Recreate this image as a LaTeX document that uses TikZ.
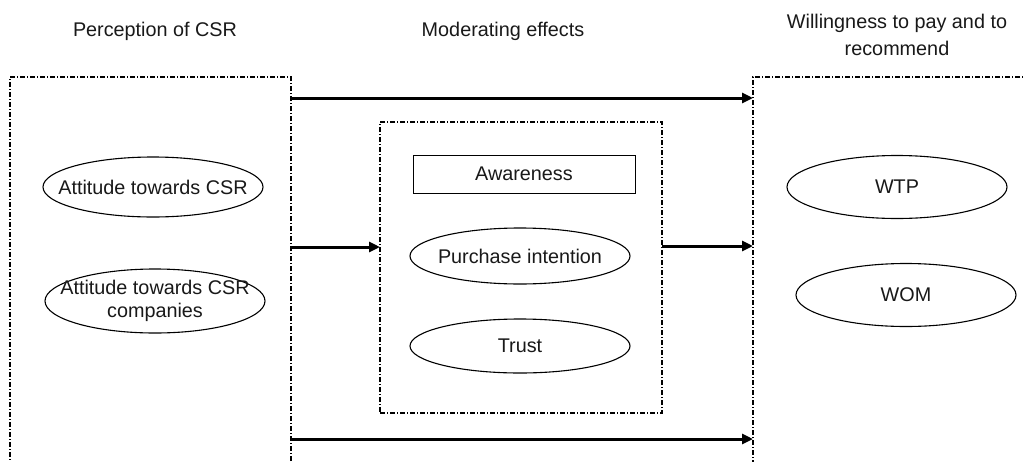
\documentclass[tikz,border=0pt]{standalone}
\usepackage{fontspec}
\setmainfont{Liberation Sans}
\usetikzlibrary{arrows.meta,shapes.geometric}
\begin{document}
\begin{tikzpicture}[x=1pt,y=-1pt,
  every node/.style={text=black!90, font=\fontsize{19.8}{23}\selectfont},
  groupbox/.style={draw, line width=1.2pt, dash pattern=on 5pt off 2pt on 1pt off 2pt,
    rectangle, inner sep=0pt, outer sep=0pt},
  % negative inner sep lets the fixed minimum size set the ellipse outline
  oval/.style={draw, line width=1.1pt, ellipse, inner xsep=-40pt, inner ysep=-15pt,
    align=center, minimum width=220pt, minimum height=60pt},
  plainbox/.style={draw, line width=1pt, rectangle, inner sep=0pt,
    minimum width=222pt, minimum height=38pt},
  heading/.style={align=center, font=\fontsize{19.8}{27}\selectfont},
  flow/.style={line width=3pt, -{Triangle[length=11pt,width=10pt]}}]
\clip (0,0) rectangle (1025,461);
\fill[white] (0,0) rectangle (1025,461);

% column headings
\node[heading] (hperc) at (155,31) {Perception of CSR};
\node[heading] (hmod) at (503,31) {Moderating effects};
\node[heading] (hwill) at (897,35) {Willingness to pay and to\\recommend};

% grouping frames
\node[groupbox, minimum width=281pt, minimum height=403pt] (left) at (150.5,278.5) {};
\node[groupbox, minimum width=292pt, minimum height=403pt] (right) at (899,278.5) {};
\node[groupbox, minimum width=282pt, minimum height=291pt] (mid) at (521,267.5) {};

% perception constructs
\node[oval] (att) at (153,187) {Attitude towards CSR};
\node[oval, minimum height=64pt] (attc) at (155,301) {Attitude towards CSR\\companies};

% moderators
\node[plainbox] (aware) at (524,174) {Awareness};
\node[oval, minimum height=56pt] (pi) at (520,256) {Purchase intention};
\node[oval, minimum height=54pt] (trust) at (520,346) {Trust};

% outcomes
\node[oval, minimum height=63pt] (wtp) at (897,187) {WTP};
\node[oval, minimum height=63pt] (wom) at (906,295) {WOM};

% connectors
\coordinate (ytop) at (0,98);
\coordinate (ymid) at (0,247);
\coordinate (ymid2) at (0,246);
\coordinate (ybot) at (0,439);
\draw[flow] (left.east |- ytop) -- (right.west |- ytop);
\draw[flow] (left.east |- ymid) -- (mid.west |- ymid);
\draw[flow] (mid.east |- ymid2) -- (right.west |- ymid2);
\draw[flow] (left.east |- ybot) -- (right.west |- ybot);
\end{tikzpicture}
\end{document}
